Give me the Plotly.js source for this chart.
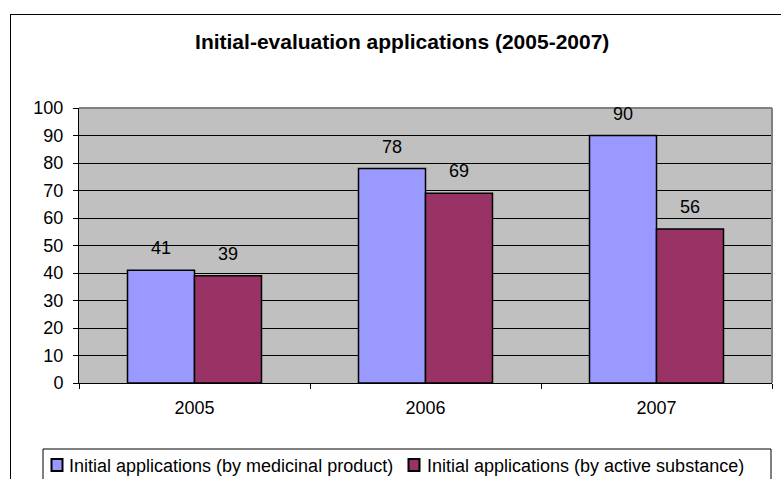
<!DOCTYPE html>
<html>
<head>
<meta charset="utf-8">
<script src="https://cdn.plot.ly/plotly-3.0.1.min.js"></script>
<style>
  html, body { margin: 0; padding: 0; background: #fff; overflow: hidden; }
  #wrap { position: relative; width: 781px; height: 479px; overflow: hidden; }
  #chart { position: absolute; left: 0; top: 0; width: 781px; height: 479px; }
  #frame { position: absolute; left: 10px; top: 14px; width: 800px; height: 600px;
           border: 1.5px solid #000; pointer-events: none; box-sizing: border-box; }
</style>
</head>
<body>
<div id="wrap">
  <div id="chart"></div>
  <div id="frame"></div>
</div>
<script>
const years = ['2005', '2006', '2007'];
const byProduct = [41, 78, 90];
const bySubstance = [39, 69, 56];
const seriesNames = ['Initial applications (by medicinal product)', 'Initial applications (by active substance)'];
const seriesColors = ['#9999FF', '#993366'];
const chartTitle = 'Initial-evaluation applications (2005-2007)';

const FONT = 'Arial, "Liberation Sans", sans-serif';

// plot-area geometry (pixels) used to place the hand-built legend
const W = 781, H = 479, ML = 79, MR = 9, MT = 108, MB = 96;
const PW = W - ML - MR, PH = H - MT - MB;
const px = x => (x - ML) / PW;
const py = y => (H - MB - y) / PH;

const traces = [byProduct, bySubstance].map((vals, si) => ({
  type: 'bar', x: years, y: vals, name: seriesNames[si],
  marker: { color: seriesColors[si], line: { color: '#000', width: 1.5 } }, hoverinfo: 'y'
}));

const annotations = [];
[byProduct, bySubstance].forEach((vals, si) => {
  vals.forEach((v, i) => {
    annotations.push({
      x: i, y: v, xref: 'x', yref: 'y', text: String(v), showarrow: false,
      xshift: si === 0 ? -33.5 : 33.5, yshift: 22, yanchor: 'middle',
      font: { family: FONT, size: 18, color: '#000' }
    });
  });
});

// legend (drawn as shapes + text, matching the reference's box)
const legendY = 465;
const legendItems = [{ sq: 57, tx: 67 }, { sq: 414, tx: 425 }];
const shapes = [
  { type: 'line', xref: 'paper', yref: 'paper', x0: 0, x1: 1, y0: 1, y1: 1, line: { color: '#808080', width: 2 } },
  { type: 'line', xref: 'paper', yref: 'paper', x0: 1, x1: 1, y0: 0, y1: 1, line: { color: '#808080', width: 2 } },
  { type: 'rect', xref: 'paper', yref: 'paper', x0: px(43), x1: px(771), y0: py(449), y1: py(500),
    line: { color: '#000', width: 1 }, fillcolor: '#fff', layer: 'below' }
];
legendItems.forEach((it, si) => {
  shapes.push({ type: 'rect', xref: 'paper', yref: 'paper',
    x0: px(it.sq - 5.5), x1: px(it.sq + 5.5), y0: py(legendY - 6), y1: py(legendY + 6),
    line: { color: '#000', width: 2 }, fillcolor: seriesColors[si] });
  annotations.push({ xref: 'paper', yref: 'paper', x: px(it.tx), y: py(legendY + 1),
    xanchor: 'left', yanchor: 'middle', text: seriesNames[si], showarrow: false,
    font: { family: FONT, size: 18, color: '#000' } });
});

const layout = {
  width: W, height: H,
  margin: { l: ML, r: MR, t: MT, b: MB, autoexpand: false },
  paper_bgcolor: 'rgba(0,0,0,0)',
  plot_bgcolor: '#C0C0C0',
  font: { family: FONT, size: 18, color: '#000' },
  title: { text: '<b>' + chartTitle + '</b>', x: 0.515, xref: 'container', xanchor: 'center',
           y: 1 - 42 / H, yref: 'container', yanchor: 'middle',
           font: { family: FONT, size: 21, color: '#000' } },
  barmode: 'group', bargap: 0.42, bargroupgap: 0,
  showlegend: false,
  xaxis: { type: 'category', categoryorder: 'array', categoryarray: years, range: [-0.5, 2.5],
           tickson: 'boundaries', ticks: 'outside', ticklen: 5, tickcolor: '#000',
           showline: true, linecolor: '#000', linewidth: 1, showgrid: false, zeroline: false,
           ticklabelstandoff: 8, tickfont: { family: FONT, size: 18, color: '#000' }, fixedrange: true },
  yaxis: { range: [0, 100], dtick: 10, tick0: 0, ticks: 'outside', ticklen: 5, tickcolor: '#000',
           showline: true, linecolor: '#000', linewidth: 1, showgrid: true, gridcolor: '#000', gridwidth: 1,
           zeroline: false, ticklabelstandoff: 6, tickfont: { family: FONT, size: 18, color: '#000' }, fixedrange: true },
  shapes: shapes,
  annotations: annotations
};

Plotly.newPlot('chart', traces, layout, { displayModeBar: false, staticPlot: true });
</script>
</body>
</html>
